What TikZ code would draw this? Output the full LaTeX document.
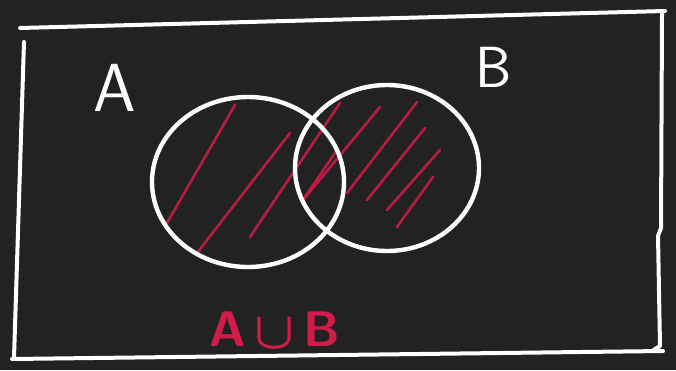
\documentclass[tikz,border=0pt]{standalone}
\usepackage{amsmath,amssymb}
\usepackage{tikz}
\usetikzlibrary{shapes.geometric}
\definecolor{boardbg}{RGB}{34, 34, 34}
\definecolor{chalkred}{RGB}{210, 28, 72}

\begin{document}
\begin{tikzpicture}[
  x=1pt, y=-1pt,
  chalk/.style={draw=white, line width=4pt, line cap=round, line join=round},
  setshape/.style={
    ellipse, draw=white, line width=4.4pt,
    inner sep=0pt
  },
  hatch/.style={chalkred, line width=2.6pt, line cap=round, opacity=0.85},
  setlabel/.style={text=white, font=\sffamily\fontsize{68}{68}\selectfont, inner sep=0pt},
  unionlabel/.style={text=chalkred, font=\sffamily\bfseries\fontsize{50}{50}\selectfont, inner sep=0pt}
]

% board
\fill[boardbg] (0,0) rectangle (676,370);
\useasboundingbox (0,0) rectangle (676,370);

% universe
\draw[chalk] (20,28) -- (665,11);
\draw[chalk] (662,14) -- (661,228) -- (658,236) -- (660,346) -- (652,351);
\draw[chalk] (12,359) -- (663,351);
\draw[chalk] (24,42) -- (14,358);

% hatching of the union
\draw[hatch] (235,105) -- (167,223);
\draw[hatch] (290,133) -- (197,253);
\draw[hatch] (340,103) -- (250,237);
\draw[hatch] (337,150) -- (305,197);
\draw[hatch] (380,107) -- (303,200);
\draw[hatch] (417,102) -- (347,193);
\draw[hatch] (425,128) -- (367,200);
\draw[hatch] (440,150) -- (387,210);
\draw[hatch] (433,177) -- (397,227);

% sets
\node[setshape, minimum width=192pt, minimum height=170pt] (setA) at (248,182) {};
\node[setshape, minimum width=184pt, minimum height=166pt] (setB) at (387,168) {};

% labels
\node[setlabel] (labA) at (115,88) {A};
\node[setlabel, font=\sffamily\fontsize{58}{58}\selectfont] (labB) at (494,67) {B};
\node[unionlabel] (labU) at (275,330) {A\,\raisebox{-2pt}{\scalebox{2.1}{$\boldsymbol{\cup}$}}\,B};

\end{tikzpicture}
\end{document}
